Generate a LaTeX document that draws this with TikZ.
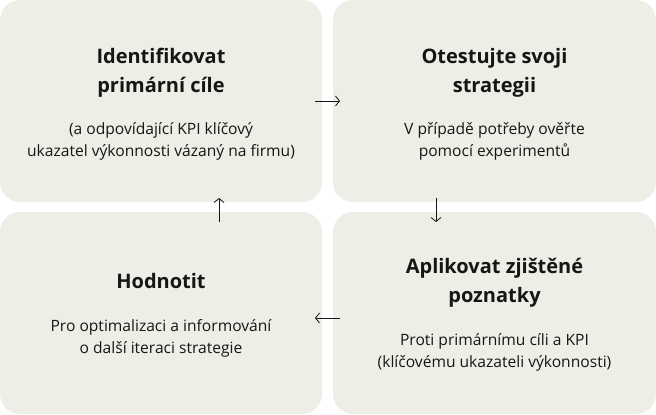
\documentclass[tikz,border=0pt]{standalone}
\usepackage{fontspec}
\setmainfont{Open Sans}
\usepackage{xcolor}
\usepackage{tikz}
\usetikzlibrary{arrows.meta}
\usetikzlibrary{positioning}
\definecolor{panel}{RGB}{238,238,231}
\definecolor{ink}{RGB}{22,22,22}
\tikzset{ stage/.style = {rectangle, rounded corners=20pt, fill=panel, minimum width=322pt, minimum height=202pt, inner sep=0pt} }
\tikzset{ heading/.style = {align=center, anchor=base, inner sep=0pt, text=ink, font=\bfseries\fontsize{20}{29}\selectfont} }
\tikzset{ note/.style = {align=center, anchor=base, inner sep=0pt, text=ink, font=\fontsize{15.6}{22}\selectfont} }
\tikzset{ flow/.style = {-{Straight Barb[length=4pt,width=10pt]}, line width=0.8pt, draw=ink} }

\begin{document}
\begin{tikzpicture}[x=1pt,y=1pt]
            \useasboundingbox (0,0) rectangle (656,415);
            \node [style=stage] (ident) at (161, 314) {};
            \node [style=stage, minimum width=323pt] (test) at (494.5, 314) {};
            \node [style=stage] (eval) at (161, 102) {};
            \node [style=stage, minimum width=323pt] (apply) at (494.5, 102) {};
            \node [style=heading] (identtitle) at (161, 322) {Identifikovat\\primární cíle};
            \node [style=note] (identnote) at (161, 258) {(a odpovídající KPI klíčový\\ukazatel výkonnosti vázaný na firmu)};
            \node [style=heading] (testtitle) at (494.5, 322) {Otestujte svoji\\strategii};
            \node [style=note] (testnote) at (494.5, 258) {V případě potřeby ověřte\\pomocí experimentů};
            \node [style=heading] (applytitle) at (494.5, 112) {Aplikovat zjištěné\\poznatky};
            \node [style=note] (applynote) at (494.5, 47) {Proti primárnímu cíli a KPI\\(klíčovému ukazateli výkonnosti)};
            \node [style=heading] (evaltitle) at (161, 126) {Hodnotit};
            \node [style=note] (evalnote) at (161, 61) {Pro optimalizaci a informování\\o další iteraci strategie};
            \coordinate (a1) at (315, 314);
            \coordinate (a2) at (340, 314);
            \coordinate (b1) at (436, 217);
            \coordinate (b2) at (436, 193);
            \coordinate (c1) at (340, 97);
            \coordinate (c2) at (315, 97);
            \coordinate (d1) at (219, 193);
            \coordinate (d2) at (219, 217);
            \draw [style=flow] (a1) to (a2);
            \draw [style=flow] (b1) to (b2);
            \draw [style=flow] (c1) to (c2);
            \draw [style=flow] (d1) to (d2);
    \end{tikzpicture}
\end{document}
